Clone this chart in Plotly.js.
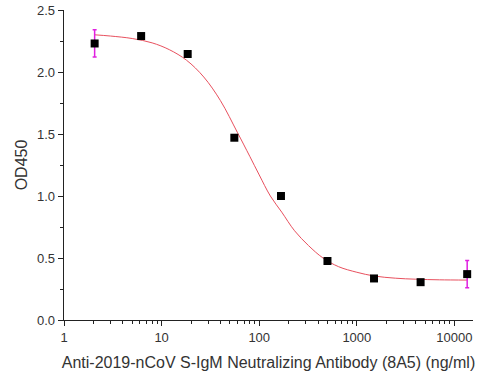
<!DOCTYPE html>
<html>
<head>
<meta charset="utf-8">
<script src="https://cdn.plot.ly/plotly-3.0.1.min.js"></script>
<style>html,body{margin:0;padding:0;background:#fff;}#chart{width:502px;height:384px;}</style>
</head>
<body>
<div id="chart"></div>
<script>
// Measured points (concentration ng/ml, OD450)
var concentrations = [2.06, 6.17, 18.5, 55.6, 167, 500, 1500, 4500, 13500];
var od450 = [2.23, 2.29, 2.145, 1.47, 1.0, 0.476, 0.335, 0.305, 0.37];
// Error bars (only first and last points show them)
var errors = [0.11, 0, 0, 0, 0, 0, 0, 0, 0.11];
// Fitted curve
var curveX = [2.06, 3, 5, 8, 12, 18, 27, 40, 60, 80, 100, 130, 170, 230, 320, 450, 650, 1000, 1500, 2500, 4000, 7000, 13500];
var curveY = [2.30, 2.29, 2.27, 2.235, 2.18, 2.095, 1.96, 1.77, 1.51, 1.32, 1.17, 1.0, 0.87, 0.72, 0.60, 0.50, 0.43, 0.385, 0.355, 0.337, 0.329, 0.324, 0.322];
// Axis ticks
var xTicks = [1, 10, 100, 1000, 10000];
var xTickText = ['1', '10', '100', '1000', '10000'];
var yTicks = [0, 0.5, 1.0, 1.5, 2.0, 2.5];

var font = 'Liberation Sans, Arial, sans-serif';
var traces = [
  {x: curveX, y: curveY, type: 'scatter', mode: 'lines', line: {color: '#e8505e', width: 1, shape: 'spline'}, hoverinfo: 'skip'},
  {x: concentrations, y: od450, type: 'scatter', mode: 'markers',
   marker: {symbol: 'square', size: 8, color: '#000'},
   error_y: {type: 'data', array: errors, visible: true, color: '#e020e0', thickness: 1.5, width: 2}}
];
var layout = {
  width: 502, height: 384,
  margin: {l: 64, r: 29, t: 10, b: 64},
  paper_bgcolor: '#fff', plot_bgcolor: '#fff',
  showlegend: false,
  font: {family: font, color: '#333', size: 13},
  xaxis: {
    type: 'log', range: [0, 4.19],
    tickvals: xTicks, ticktext: xTickText,
    ticks: 'outside', ticklen: 5, tickwidth: 1, tickcolor: '#222',
    showline: true, linecolor: '#222', linewidth: 1.3,
    showgrid: false, zeroline: false,
    minor: {ticks: 'outside', ticklen: 3, tickcolor: '#222', dtick: 'D1', showgrid: false},
    tickfont: {size: 13, color: '#333', family: font},
    title: {text: 'Anti-2019-nCoV S-IgM Neutralizing Antibody (8A5) (ng/ml)', font: {size: 16, color: '#333', family: font}, standoff: 13}
  },
  yaxis: {
    range: [0, 2.5],
    tickvals: yTicks, tickformat: '.1f',
    ticks: 'outside', ticklen: 5, tickwidth: 1, tickcolor: '#222',
    showline: true, linecolor: '#222', linewidth: 1.3,
    showgrid: false, zeroline: false,
    minor: {ticks: 'outside', ticklen: 3, tickcolor: '#222', dtick: 0.25, showgrid: false},
    tickfont: {size: 13, color: '#333', family: font},
    title: {text: 'OD450', font: {size: 16, color: '#333', family: font}, standoff: 5}
  }
};
Plotly.newPlot('chart', traces, layout, {staticPlot: true, displayModeBar: false});
</script>
</body>
</html>
